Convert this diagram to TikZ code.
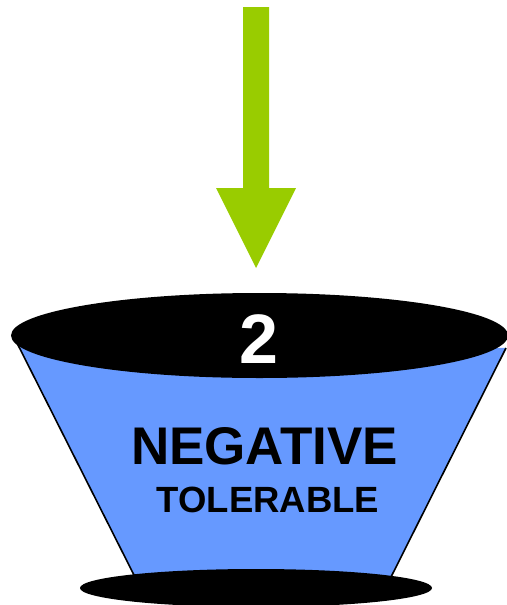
\documentclass[tikz,border=0pt]{standalone}
\usepackage{fontspec}
\setmainfont{Liberation Sans}
\definecolor{cupblue}{HTML}{6699FF}
\definecolor{arrowgreen}{HTML}{99CC00}
\begin{document}
\begin{tikzpicture}[x=1pt,y=-1pt,
  label/.style={font=\bfseries, inner sep=0pt, anchor=center}]
\useasboundingbox (0,0) rectangle (506,605);
% arrow
\fill[arrowgreen] (243,7) -- (269,7) -- (269,188) -- (296,188) -- (256,268) -- (216,188) -- (243,188) -- cycle;
% cup body
\coordinate (tl) at (17,343);
\coordinate (bl) at (135,577);
\coordinate (br) at (391,577);
\coordinate (tr) at (506,348);
\fill[cupblue] (tl) -- (bl) -- (br) -- (tr) -- cycle;
\draw[line width=1.6pt] (tl) -- (bl);
\draw[line width=1.6pt] (tr) -- (br);
% bottom ellipse
\fill[black] (256,588) ellipse [x radius=176, y radius=19];
% top ellipse
\fill[black] (259.5,335.5) ellipse [x radius=248.5, y radius=42.5];
\node[label, text=white, font=\fontsize{70}{70}\bfseries] (num) at (258.5,339) {2};
\node[label, font=\fontsize{53}{53}\bfseries] (neg) at (264.5,446.5) {NEGATIVE};
\node[label, font=\fontsize{36.5}{36.5}\bfseries] (tol) at (268,499.5) {TOLERABLE};
\end{tikzpicture}
\end{document}
